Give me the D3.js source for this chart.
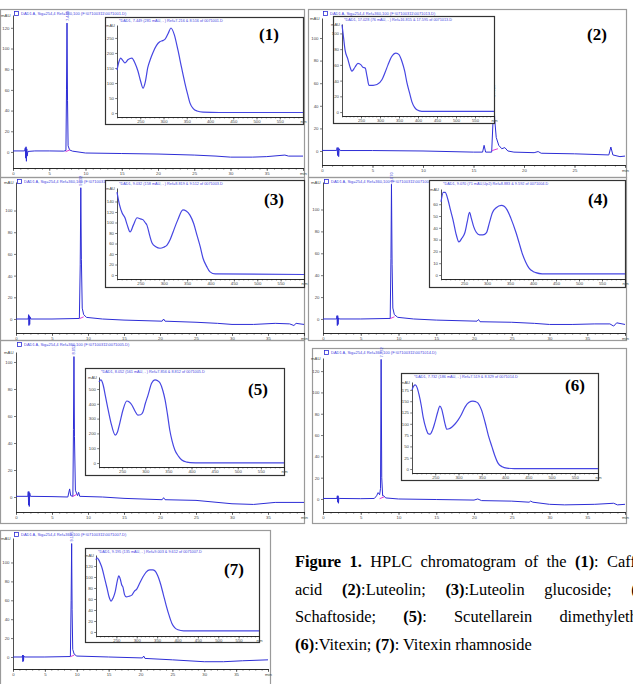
<!DOCTYPE html>
<html>
<head>
<meta charset="utf-8">
<script src="https://cdn.jsdelivr.net/npm/d3@7"></script>
<style>
body	{ margin:0; width:633px; height:684px; overflow:hidden; background:#fff; position:relative; }
svg	{ position:absolute; left:0; top:0; }
.caption	{ position:absolute; left:295px; top:548px; width:360px; font-family:"Liberation Serif","Times New Roman",serif; font-size:16.4px; line-height:27.5px; color:#000; }
.caption div	{ text-align:justify; text-align-last:justify; }
.caption div.last	{ text-align-last:left; }
</style>
</head>
<body>
<script>
// chromatograms: [retention time (min), signal (mAU)]
var trace1 = [[0,1],[1.6,1],[1.7,4],[1.75,-6],[1.8,5],[1.85,-9],[1.9,3],[1.95,-4],[2.05,0.5],[3,1],[5,1],[7,0.8],[7.3,1.5],[7.38,60],[7.45,124.6],[7.52,50],[7.6,6],[7.8,2],[8.2,0.8],[10,-1],[15,-1.5],[20,-2],[25,-3],[28,-4],[30,-5],[33,-5],[35,-4.5],[37.5,-3],[38,-4],[40,-4]];
var trace2 = [[0,0.5],[1.45,0.5],[1.5,3],[1.55,-4],[1.6,3],[1.65,-5],[1.7,2],[1.8,0.4],[5,0.4],[10,0],[15,-1],[15.9,-1],[16.05,5],[16.2,-1],[16.8,-1],[16.95,30],[17.02,46],[17.1,28],[17.25,12],[17.5,5],[17.8,2],[18.1,3],[18.4,0],[19,-1],[21,-1.5],[21.4,-0.5],[21.7,-2],[25,-2.5],[28.4,-3.5],[28.6,3.5],[28.8,-3.5],[29.5,-5],[30,-4.5]];
var trace3 = [[0,0],[1.7,0],[1.75,4],[1.8,-6],[1.85,3],[1.9,-5],[1.95,2],[2.05,0],[5,0],[8.8,0.5],[8.92,50],[9.0,121],[9.08,55],[9.2,10],[9.4,4],[9.8,1.5],[12,0],[15,-1],[20.3,-2],[20.5,0],[20.7,-2],[25,-3],[28,-4],[30,-5],[33,-5],[36,-4],[38,-4.5],[38.6,-6],[38.9,-4],[40,-5]];
var trace4 = [[0,0],[1.8,0],[1.85,3],[1.9,-6],[1.95,3],[2.0,-5],[2.05,1],[2.15,0],[5,0],[8.9,0.5],[9.0,55],[9.07,123],[9.15,50],[9.25,10],[9.45,4],[9.9,1.5],[12,0],[15,-1],[20.4,-2],[20.6,-0.5],[20.8,-2.5],[25,-3],[28,-4],[30,-5],[33,-5],[36,-4.5],[38,-4.5],[38.5,-6.5],[38.9,-3.5],[40,-5]];
var trace5 = [[0,0.5],[1.65,0.5],[1.7,4],[1.75,-6],[1.8,4],[1.85,-7],[1.9,3],[2.0,0.5],[5,0.3],[7.2,0],[7.45,6],[7.6,1],[7.9,0.5],[7.98,50],[8.05,104],[8.12,45],[8.25,5],[8.55,1],[8.7,3.5],[8.85,0.5],[12,0],[15,-1],[20.3,-2],[20.5,-0.5],[20.7,-2],[25,-2.5],[30,-5],[33,-5.5],[36,-4],[40,-4]];
var trace6 = [[0,0.5],[1.85,0.5],[1.9,3],[1.95,-3],[2.0,3],[2.05,-4],[2.1,1],[2.2,0.5],[5,0.3],[6.8,0.5],[7.1,3],[7.3,6],[7.5,4],[7.62,10],[7.7,131],[7.78,20],[7.9,3],[8.05,3],[8.3,1],[10,0],[15,-0.5],[20,-1],[20.5,0],[21,-1.5],[25,-2],[27.3,-3],[27.5,-2],[27.8,-3],[30,-5],[32,-5.5],[36,-5],[38.5,-4],[39,-5.5],[40,-5]];
var trace7 = [[0,0],[1.45,0],[1.5,2],[1.55,-5],[1.6,2],[1.65,-4],[1.7,1],[1.8,0],[5,0],[9.0,0.5],[9.12,60],[9.2,120],[9.27,50],[9.37,8],[9.6,3],[10,1],[15,0],[20.3,-1],[20.5,1],[20.7,-1.5],[25,-3],[30,-5],[33,-5],[36,-4],[40,-3]];

// UV spectra of the main peaks: [wavelength (nm), absorbance (mAU)]
var spec1 = [[200,143],[204,170],[208,183],[212,176],[217,167],[224,178],[232,183],[239,165],[245,140],[251,105],[256,83],[261,105],[266,150],[272,180],[277,200],[285,225],[292,237],[298,241],[303,245],[310,265],[316,283],[323,262],[331,210],[339,150],[346,100],[352,62],[357,33],[364,15],[372,7],[385,3],[420,2],[600,2]];
var spec2 = [[200,111],[204,95],[208,79],[215,68],[222,56],[226,52],[234,57],[242,62],[250,60],[255,57],[261,56],[266,45],[271,34],[282,34],[292,35],[305,41],[313,50],[321,60],[330,70],[342,75],[350,73],[358,64],[365,52],[371,37],[378,24],[384,13],[391,6],[397,3],[410,1],[600,1]];
var spec3 = [[200,158],[205,135],[211,118],[217,109],[222,95],[228,82],[235,95],[243,109],[250,107],[256,105],[260,100],[264,95],[270,75],[275,61],[283,54],[292,51],[300,53],[307,57],[314,68],[320,82],[330,105],[341,124],[348,122],[356,114],[364,98],[371,76],[378,54],[384,32],[392,16],[399,6],[410,2],[600,1]];
var spec4 = [[200,62],[205,70],[209,70],[215,64],[220,56],[226,47],[232,36],[239,28],[245,31],[252,36],[257,45],[262,53],[266,48],[271,41],[277,36],[284,34],[291,34],[299,36],[305,44],[312,53],[320,57],[331,59],[338,58],[344,55],[352,48],[363,36],[370,27],[376,19],[384,11],[391,6],[400,3],[406,2],[420,1],[600,1]];
var spec5 = [[200,547],[204,561],[209,527],[214,450],[219,371],[226,270],[235,189],[240,210],[245,270],[252,360],[260,419],[266,410],[271,392],[278,350],[284,324],[290,326],[295,345],[300,400],[306,459],[314,540],[321,561],[327,555],[332,540],[338,490],[343,425],[348,330],[353,223],[358,150],[364,88],[372,45],[379,20],[390,6],[397,3],[420,1],[600,1]];
var spec6 = [[200,175],[204,184],[207,186],[211,180],[215,165],[220,140],[224,115],[230,90],[235,78],[239,77],[244,86],[249,102],[255,125],[260,139],[264,132],[267,119],[271,100],[275,88],[280,89],[286,93],[292,99],[299,108],[306,120],[314,137],[322,147],[331,150],[337,149],[342,146],[349,132],[357,104],[364,75],[372,49],[378,30],[385,13],[394,5],[404,2],[420,1],[600,1]];
var spec7 = [[200,131],[202,135],[206,132],[211,124],[215,116],[221,98],[227,80],[232,64],[237,56],[242,62],[247,73],[252,92],[256,102],[260,95],[263,86],[266,82],[270,68],[274,64],[281,65],[288,67],[294,74],[300,78],[308,90],[315,100],[323,109],[332,113],[339,113],[345,111],[351,103],[357,91],[365,69],[372,49],[379,31],[386,16],[393,8],[401,4],[415,2],[600,2]];

// tick labels
var timeTicks40	= [0,5,10,15,20,25,30,35,40];
var timeTicks30	= [0,5,10,15,20,25,30];
var nmTicks	= [250,300,350,400,450,500,550,600];
var yTicks	= [[0,20,40,60,80,100,120],[0,20,40,60,80,100],[0,20,40,60,80,100],[0,20,40,60,80,100],[0,20,40,60,80,100],[0,20,40,60,80,100,120],[0,20,40,60,80,100]];
var specTicks	= [[0,50,100,150,200,250],[0,20,40,60,80,100],[0,20,40,60,80,100,120,140],[0,10,20,30,40,50,60],[0,100,200,300,400,500],[0,25,50,75,100,125,150,175],[0,20,40,60,80,100,120]];

var peakTimes	= [7.45, 17.02, 9.0, 9.07, 8.05, 7.7, 9.2];
var peakLabels	= ["7.449","17.028","9.032","9.070","8.052","7.732","9.195"];
var panelNames	= ["(1)","(2)","(3)","(4)","(5)","(6)","(7)"];
var sigTitles	= [
	"DAD1 A, Sig=254,4 Ref=360,100 (F:\\07100311\\0071001.D)",
	"DAD1 A, Sig=254,4 Ref=360,100 (F:\\07100311\\0071013.D)",
	"DAD1 A, Sig=254,4 Ref=360,100 (F:\\07100311\\0071003.D)",
	"DAD1 A, Sig=254,4 Ref=360,100 (F:\\07100311\\0071004.D)",
	"DAD1 A, Sig=254,4 Ref=360,100 (F:\\07100311\\0071005.D)",
	"DAD1 A, Sig=254,4 Ref=360,100 (F:\\07100311\\0071014.D)",
	"DAD1 A, Sig=254,4 Ref=360,100 (F:\\07100311\\0071007.D)"];
var specTitles	= [
	"*DAD1, 7.449 (281 mAU, - ) Ref=7.216 & 8.516 of 0071001.D",
	"*DAD1, 17.028 (76 mAU, - ) Ref=16.815 & 17.595 of 0071013.D",
	"*DAD1, 9.032 (158 mAU, - ) Ref=8.819 & 9.512 of 0071003.D",
	"*DAD1, 9.070 (71 mAU,Up2) Ref=8.883 & 9.592 of 0071004.D",
	"*DAD1, 8.052 (561 mAU, - ) Ref=7.856 & 8.812 of 0071005.D",
	"*DAD1, 7.732 (186 mAU, - ) Ref=7.519 & 8.329 of 0071014.D",
	"*DAD1, 9.195 (135 mAU, - ) Ref=9.003 & 9.612 of 0071007.D"];
var captionLines = [
	[["b","Figure 1."],[""," HPLC chromatogram of the "],["b","(1)"],["",": Caffeic"]],
	[["","acid "],["b","(2)"],["",":Luteolin; "],["b","(3)"],["",":Luteolin glucoside; "],["b","(4)"],["",":"]],
	[["","Schaftoside; "],["b","(5)"],["",": Scutellarein dimethylether;"]],
	[["b","(6)"],["",":Vitexin; "],["b","(7)"],["",": Vitexin rhamnoside"]]];

var traces = [trace1,trace2,trace3,trace4,trace5,trace6,trace7];
var specs = [spec1,spec2,spec3,spec4,spec5,spec6,spec7];

// page layout of each panel, in pixels
var layout = [
	{ frame:[0,9,304,168],   x:[13,303],  y:[168,15],  xDom:[0,40], yDom:[-15.5,132.4], lab:[269,40],
	  inset:{ box:[105,17,198,107], x:[117,303], y:[117,25],  yDom:[-13,293] } },
	{ frame:[308,9,318,168], x:[322,625], y:[165,18],  xDom:[0,30], yDom:[-12.4,117.7], lab:[597,40],
	  inset:{ box:[333,16,161,107], x:[342,494], y:[116,24],  yDom:[-5,112] } },
	{ frame:[0,177,304,163], x:[16,304],  y:[333,182], xDom:[0,40], yDom:[-12.9,126.3], lab:[274,205],
	  inset:{ box:[105,180,199,107], x:[117,304], y:[279,188], yDom:[-7.6,165.7] } },
	{ frame:[308,177,318,163], x:[323,625], y:[333,182], xDom:[0,40], yDom:[-12.8,125.1], lab:[598,205],
	  inset:{ box:[429,180,196,107], x:[441,625], y:[279,189], yDom:[-3.4,72.9] } },
	{ frame:[0,340,304,183], x:[16,304],  y:[512,352], xDom:[0,40], yDom:[-11.1,107.4], lab:[258,395],
	  inset:{ box:[85,368,199,107], x:[99,284], y:[467,377],   yDom:[-27,581] } },
	{ frame:[312,348,314,175], x:[323,625], y:[512,358], xDom:[0,40], yDom:[-12.2,132.3], lab:[575,391],
	  inset:{ box:[401,373,197,107], x:[412,598], y:[473,382], yDom:[-8.8,192.5] } },
	{ frame:[0,530,270,160], x:[13,268],  y:[669,538], xDom:[0,40], yDom:[-12.7,125.9], lab:[234,575],
	  inset:{ box:[85,548,174,94], x:[96,259], y:[636,555],    yDom:[-7.3,140] } }
];

var blue = '#2d2dd6', specBlue = '#4646e2', pink = '#e040d8', tickFont = '"Liberation Sans", Arial, sans-serif';

var svg = d3.select('body').append('svg').attr('width',633).attr('height',684);

function styleAxis(g) {
	g.attr('font-size',4.3).attr('font-family',tickFont);
	g.select('.domain').attr('stroke','#222').attr('stroke-width',0.8);
	g.selectAll('.tick line').attr('stroke','#222').attr('stroke-width',0.6);
	g.selectAll('.tick text').attr('fill','#444');
}

function drawPanel(i) {
	var L = layout[i], f = L.frame, g = svg.append('g');
	g.append('rect').attr('x',f[0]+0.5).attr('y',f[1]+0.5).attr('width',f[2]).attr('height',f[3])
		.attr('fill','none').attr('stroke','#9a9a9a').attr('stroke-width',1.2);
	var x = d3.scaleLinear().domain(L.xDom).range(L.x),
		y = d3.scaleLinear().domain(L.yDom).range(L.y);

	g.append('rect').attr('x',L.x[0]+1.5).attr('y',f[1]+2.5).attr('width',4).attr('height',4)
		.attr('fill','none').attr('stroke',blue).attr('stroke-width',0.8);
	g.append('text').attr('x',L.x[0]+8).attr('y',f[1]+6.3).attr('font-size',4).attr('font-family',tickFont)
		.attr('fill',specBlue).text(sigTitles[i]);

	var ticks = L.xDom[1]==30 ? timeTicks30 : timeTicks40, tmax = L.xDom[1];
	g.append('g').attr('transform','translate(0,'+L.y[0]+')')
		.call(d3.axisBottom(x).tickValues(d3.range(0,tmax+0.5,1)).tickSize(1.6).tickFormat('').tickSizeOuter(0))
		.call(styleAxis);
	g.append('g').attr('transform','translate(0,'+L.y[0]+')')
		.call(d3.axisBottom(x).tickValues(ticks).tickSize(3).tickPadding(1).tickSizeOuter(0)
			.tickFormat(function(d){ return d==tmax ? 'min' : d; }))
		.call(styleAxis);
	g.append('g').attr('transform','translate('+L.x[0]+',0)')
		.call(d3.axisLeft(y).tickValues(yTicks[i]).tickSize(2).tickPadding(1.5).tickSizeOuter(0))
		.call(styleAxis);
	g.append('text').attr('x',L.x[0]-2.5).attr('y',L.y[1]+2).attr('text-anchor','end')
		.attr('font-size',4.3).attr('font-family',tickFont).attr('fill','#444').text('mAU');

	var line = d3.line().x(function(d){return x(d[0]);}).y(function(d){return y(d[1]);});
	g.append('path').datum(traces[i]).attr('d',line).attr('fill','none').attr('stroke',blue).attr('stroke-width',1);
	var tp = peakTimes[i];
	g.append('path').datum([[tp-0.2,0.3],[tp+0.4,2]]).attr('d',line).attr('fill','none').attr('stroke',pink).attr('stroke-width',1);
	var top = d3.max(traces[i], function(d){return d[1];});
	g.append('text').attr('transform','translate('+(x(tp)+1.5)+','+(y(top)-2)+') rotate(-90)')
		.attr('font-size',4).attr('font-family',tickFont).attr('fill',specBlue).text(peakLabels[i]);

	// UV spectrum inset
	var I = L.inset, b = I.box;
	g.append('rect').attr('x',b[0]+0.5).attr('y',b[1]+0.5).attr('width',b[2]).attr('height',b[3])
		.attr('fill','#fff').attr('stroke','#333').attr('stroke-width',1.2);
	var sx = d3.scaleLinear().domain([200,600]).range(I.x),
		sy = d3.scaleLinear().domain(I.yDom).range(I.y);
	g.append('text').attr('x',I.x[0]+2).attr('y',b[1]+5).attr('font-size',3.8).attr('font-family',tickFont)
		.attr('fill',specBlue).text(specTitles[i]);
	g.append('g').attr('transform','translate(0,'+I.y[0]+')')
		.call(d3.axisBottom(sx).tickValues(d3.range(200,601,10)).tickSize(1.4).tickFormat('').tickSizeOuter(0))
		.call(styleAxis);
	g.append('g').attr('transform','translate(0,'+I.y[0]+')')
		.call(d3.axisBottom(sx).tickValues(nmTicks).tickSize(2.5).tickPadding(0.8).tickSizeOuter(0)
			.tickFormat(function(d){ return d==600 ? 'nm' : d; }))
		.call(styleAxis);
	var st = specTicks[i];
	g.append('g').attr('transform','translate('+I.x[0]+',0)')
		.call(d3.axisLeft(sy).tickValues(st).tickSize(1.8).tickPadding(1.2).tickSizeOuter(0))
		.call(styleAxis);
	g.append('text').attr('x',I.x[0]-2).attr('y',I.y[1]+2).attr('text-anchor','end')
		.attr('font-size',4).attr('font-family',tickFont).attr('fill','#444').text('mAU');
	var sline = d3.line().curve(d3.curveMonotoneX).x(function(d){return sx(d[0]);}).y(function(d){return sy(d[1]);});
	g.append('path').datum(specs[i]).attr('d',sline).attr('fill','none').attr('stroke',specBlue).attr('stroke-width',1.2);

	g.append('text').attr('x',L.lab[0]).attr('y',L.lab[1]).attr('text-anchor','middle')
		.attr('font-family','"Liberation Serif","Times New Roman",serif').attr('font-weight','bold')
		.attr('font-size',17).text(panelNames[i]);
}

for (var i=0; i<7; i++) drawPanel(i);

var cap = d3.select('body').append('div').attr('class','caption');
captionLines.forEach(function(l, k) {
	var d = cap.append('div').classed('last', k==captionLines.length-1);
	l.forEach(function(p) {
		d.append(p[0]=='b' ? 'b' : 'span').text(p[1]);
	});
});
</script>
</body>
</html>
